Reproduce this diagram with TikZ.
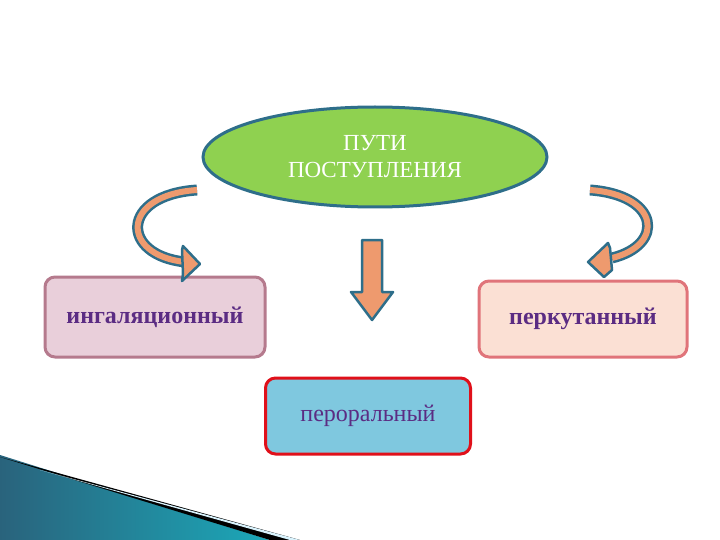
\documentclass[tikz,border=0pt]{standalone}
\usepackage{fontspec}
\setmainfont{Liberation Serif}
\usetikzlibrary{shapes.geometric}
\definecolor{teal2}{HTML}{2E6E8A}
\definecolor{orng}{HTML}{EE9A6E}
\definecolor{grn}{HTML}{8FD150}
\definecolor{purp}{HTML}{5B2C83}
\definecolor{lf}{HTML}{E9CFDA}
\definecolor{ld}{HTML}{B57A8D}
\definecolor{rf}{HTML}{FBE0D4}
\definecolor{rd}{HTML}{E0747A}
\definecolor{bf}{HTML}{7FC8DF}
\definecolor{bd}{HTML}{E0101A}
\tikzset{
 box/.style={rounded corners=10pt,line width=3pt,minimum width=#1,minimum height=80pt,font=\fontsize{24}{28}\selectfont\bfseries,text=purp},
 arrowback/.style={line width=11pt,teal2},
 arrowfront/.style={line width=6pt,orng},
 headst/.style={fill=orng,draw=teal2,line width=2.5pt,line join=round}
}
\begin{document}
\begin{tikzpicture}[x=1pt,y=-1pt]
\useasboundingbox (0,0) rectangle (720,540);
% decoration bottom-left
\shade[left color=teal2!90!black,right color=cyan!40!teal2] (0,455) -- (270,540) -- (0,540) -- cycle;
\fill[black] (0,457) -- (300,540) -- (270,540) -- cycle;
\fill[cyan!15] (40,470) -- (300,540) -- (290,540) -- cycle;
% ellipse
\node[ellipse,fill=grn,draw=teal2,line width=3pt,minimum width=344pt,minimum height=100pt,text=white,align=center,font=\fontsize{23}{27}\selectfont] (top) at (375,157) {ПУТИ\\ПОСТУПЛЕНИЯ};
% boxes
\node[box=220pt,fill=lf,draw=ld] (left) at (155,317) {ингаляционный};
\node[box=208pt,fill=rf,draw=rd,minimum height=76pt] (right) at (583,319) {перкутанный};
\node[box=205pt,fill=bf,draw=bd,minimum height=76pt,font=\fontsize{24}{28}\selectfont] (bot) at (368,416) {пероральный};
% down arrow
\draw[headst] (362,240) -- (382,240) -- (382,292) -- (393,292) -- (372,320) -- (351,292) -- (362,292) -- cycle;
% left curved arrow
\coordinate (l1) at (197,190);
\coordinate (l2) at (185,262);
\draw[arrowback] (l1) .. controls (120,195) and (120,255) .. (l2);
\draw[arrowfront] (l1) .. controls (120,195) and (120,255) .. (l2);
\draw[headst] (182,250) -- (183,246) -- (200,264) -- (182,281) -- (183,274) -- cycle;
% right curved arrow
\coordinate (r1) at (590,190);
\coordinate (r2) at (612,258);
\draw[arrowback] (r1) .. controls (660,195) and (665,245) .. (r2);
\draw[arrowfront] (r1) .. controls (660,195) and (665,245) .. (r2);
\draw[headst] (610,248) -- (608,243) -- (588,262) -- (604,277) -- (612,270) -- cycle;
\end{tikzpicture}
\end{document}
